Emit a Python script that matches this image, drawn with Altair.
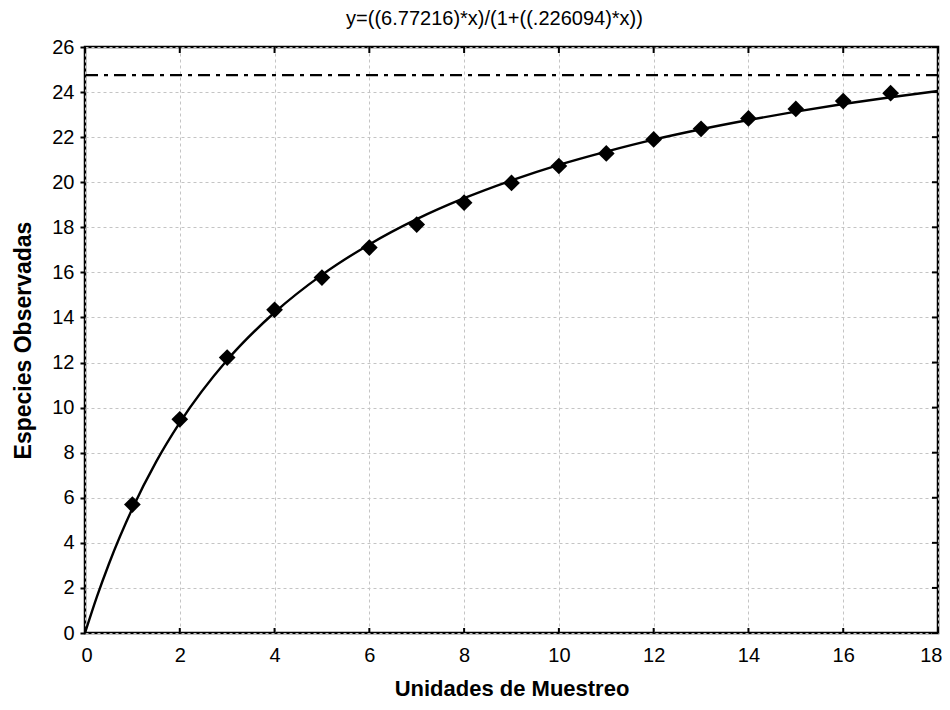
import altair as alt
import pandas as pd

obs_x = list(range(1, 18))
obs_y = [5.70, 9.48, 12.22, 14.34, 15.77, 17.10, 18.12, 19.09, 19.97, 20.72,
         21.28, 21.90, 22.37, 22.83, 23.25, 23.60, 23.95]

# Fitted curve
curve_x = [0, 0.25, 0.5, 1, 1.5, 2, 3, 4, 5, 6, 7, 8, 9, 10, 11, 12, 13, 14, 15, 16, 17, 18]
curve_y = [0, 1.60, 3.04, 5.52, 7.59, 9.33, 12.11, 14.22, 15.89, 17.24, 18.36, 19.29,
           20.08, 20.77, 21.36, 21.89, 22.35, 22.76, 23.13, 23.47, 23.77, 24.05]

# Horizontal reference (dash-dot) level
ref_level = [24.75]

x_ticks = [0, 2, 4, 6, 8, 10, 12, 14, 16, 18]
y_ticks = [0, 2, 4, 6, 8, 10, 12, 14, 16, 18, 20, 22, 24, 26]

title_text = "y=((6.77216)*x)/(1+((.226094)*x))"
x_title = "Unidades de Muestreo"
y_title = "Especies Observadas"

W, H = 853, 586
FONT = "Liberation Sans"

obs = pd.DataFrame({"x": obs_x, "y": obs_y})
curve = pd.DataFrame({"x": curve_x, "y": curve_y})
ref = pd.DataFrame({"y": ref_level})
xt = pd.DataFrame({"x": x_ticks})
yt = pd.DataFrame({"y": y_ticks})

xscale = alt.Scale(domain=[0, 18], nice=False, zero=False)
yscale = alt.Scale(domain=[0, 26], nice=False, zero=False)

xaxis = alt.Axis(title=x_title, values=x_ticks, grid=True, gridColor="#c4c4c4",
                 gridDash=[3, 3], gridWidth=1, domain=False, ticks=False,
                 labelFlush=True, labelFlushOffset=4,
                 labelPadding=12, labelFont=FONT, labelFontSize=20, labelColor="black",
                 titleFont=FONT, titleFontSize=22, titleFontWeight="bold",
                 titleColor="black", titlePadding=13)
yaxis = alt.Axis(title=y_title, values=y_ticks, grid=True, gridColor="#c4c4c4",
                 gridDash=[3, 3], gridWidth=1, domain=False, ticks=True,
                 tickSize=5, tickWidth=2, tickColor="black", labelFlush=False,
                 labelPadding=6, labelFont=FONT, labelFontSize=20, labelColor="black",
                 titleFont=FONT, titleFontSize=23, titleFontWeight="bold",
                 titleColor="black", titlePadding=16)

curve_line = alt.Chart(curve).mark_line(color="black", strokeWidth=2.4,
                                        interpolate="monotone").encode(
    x=alt.X("x:Q", scale=xscale, axis=xaxis),
    y=alt.Y("y:Q", scale=yscale, axis=yaxis),
)

points = alt.Chart(obs).mark_point(shape="diamond", filled=True, size=280,
                                   color="black", opacity=1).encode(
    x=alt.X("x:Q", scale=xscale),
    y=alt.Y("y:Q", scale=yscale),
)

ref_line = alt.Chart(ref).mark_rule(color="black", strokeWidth=2.2,
                                    strokeDash=[12, 6, 4, 6]).encode(
    y=alt.Y("y:Q", scale=yscale),
)

bottom_ticks = alt.Chart(xt).mark_rule(color="black", strokeWidth=2).encode(
    x=alt.X("x:Q", scale=xscale), y=alt.value(H), y2=alt.value(H - 5))
top_ticks = alt.Chart(xt).mark_rule(color="black", strokeWidth=2).encode(
    x=alt.X("x:Q", scale=xscale), y=alt.value(0), y2=alt.value(6))
right_ticks = alt.Chart(yt).mark_rule(color="black", strokeWidth=2).encode(
    y=alt.Y("y:Q", scale=yscale), x=alt.value(W), x2=alt.value(W - 6))

chart = alt.layer(ref_line, curve_line, points, bottom_ticks, top_ticks, right_ticks).properties(
    width=W, height=H,
    title=alt.TitleParams(title_text, font=FONT, fontSize=20, fontWeight="normal",
                          color="black", anchor="middle", frame="group",
                          dx=-17, offset=8),
    autosize=alt.AutoSizeParams(type="none"),
    padding={"left": 77, "top": 39, "right": 4, "bottom": 69},
    background="white",
).configure_view(stroke="black", strokeWidth=2.5)

chart.save("out.html", embed_options={"renderer": "svg", "actions": False})
